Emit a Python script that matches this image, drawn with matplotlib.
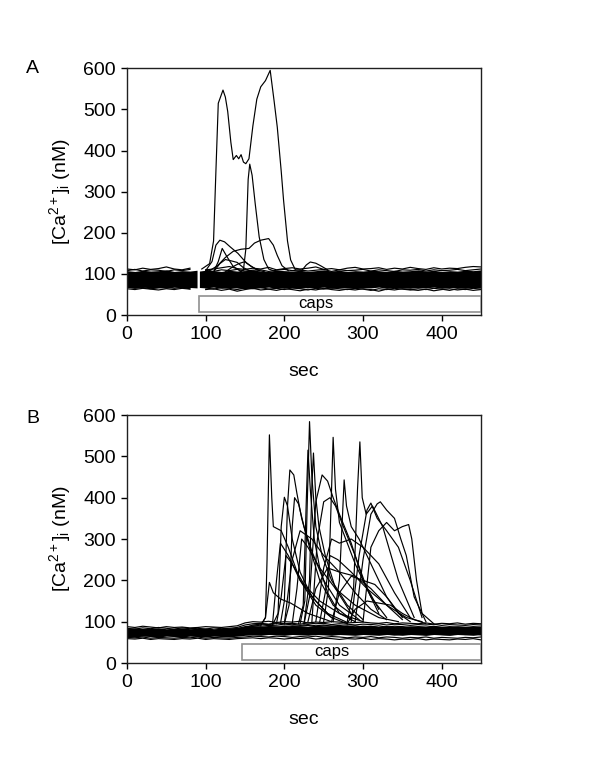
import numpy as np
import matplotlib
matplotlib.use("Agg")
import matplotlib.pyplot as plt
from matplotlib.patches import Rectangle

plt.rcParams['font.family'] = ['Liberation Sans', 'DejaVu Sans']
plt.rcParams['mathtext.fontset'] = 'custom'
plt.rcParams['mathtext.rm'] = 'Liberation Sans'
plt.rcParams['mathtext.it'] = 'Liberation Sans'

nan = np.nan

# ---------------- panel A data ----------------
# dense baseline band (envelope), with the recording gap at ~90 s
band_a_left_t = [0, 10, 20, 30, 40, 50, 60, 70, 80, 89]
band_a_left_lo = [67, 66, 68, 66, 67, 65, 68, 66, 67, 66]
band_a_left_hi = [108, 106, 109, 107, 108, 110, 106, 108, 107, 109]
band_a_right_t = [92, 100, 110, 120, 130, 140, 150, 160, 170, 180, 190, 200, 210,
                  220, 230, 240, 250, 260, 270, 280, 290, 300, 310, 320, 330, 340,
                  350, 360, 370, 380, 390, 400, 410, 420, 430, 440, 450]
band_a_right_lo = [67, 66, 68, 65, 67, 66, 64, 67, 66, 68, 65, 67, 66, 65, 67, 66,
                   68, 65, 67, 66, 65, 67, 66, 68, 65, 67, 66, 65, 67, 66, 68, 65,
                   67, 66, 65, 67, 66]
band_a_right_hi = [107, 109, 108, 106, 109, 107, 108, 110, 107, 106, 109, 108, 107,
                   109, 106, 108, 110, 107, 109, 106, 108, 107, 109, 108, 106, 109,
                   107, 108, 110, 107, 109, 106, 108, 107, 109, 108, 110]

# individual baseline traces at the band edges (10 s grid, gap at 90 s)
t_edge = list(range(0, 451, 10))
edge_a = [
    [112, 110, 114, 111, 113, 117, 112, 110, 114, nan, 110, 112, 115, 118, 113, 111,
     114, 112, 116, 110, 113, 115, 112, 114, 117, 111, 113, 110, 114, 116, 112, 113,
     115, 111, 114, 112, 116, 113, 111, 115, 112, 114, 113, 116, 118, 117],
    [108, 111, 107, 110, 109, 106, 110, 108, 111, nan, 109, 106, 110, 108, 111, 107,
     109, 110, 106, 109, 111, 108, 110, 107, 109, 111, 106, 110, 108, 109, 111, 107,
     110, 108, 106, 110, 109, 111, 107, 110, 108, 109, 111, 108, 110, 112],
    [64, 62, 65, 63, 61, 64, 62, 65, 63, nan, 62, 64, 60, 63, 58, 62, 65, 61, 63, 60,
     64, 62, 59, 63, 61, 65, 62, 60, 63, 61, 64, 62, 58, 63, 61, 64, 62, 60, 63, 59,
     62, 64, 61, 63, 60, 62],
    [68, 65, 67, 64, 66, 68, 65, 67, 64, nan, 66, 63, 67, 65, 62, 66, 64, 67, 63, 65,
     62, 66, 64, 61, 65, 63, 66, 64, 62, 65, 63, 60, 64, 62, 65, 63, 61, 64, 62, 65,
     63, 60, 64, 62, 65, 63],
]

# responding cells in panel A (time s, [Ca2+] nM)
resp_a_t = [
    [95, 105, 110, 113, 116, 122, 125, 128, 132, 135, 139, 142, 145, 148, 151, 155,
     160, 165, 170, 176, 182, 187, 191, 196, 199, 204, 208, 214, 225],
    [140, 148, 151, 154, 156, 159, 163, 168, 174, 180, 190],
    [100, 108, 113, 118, 124, 131, 141, 152, 165, 175],
    [105, 115, 125, 135, 145, 155, 162, 170, 180, 186, 191, 197, 205],
    [110, 116, 121, 127, 135, 145],
    [110, 118, 125, 132, 140, 148, 158],
    [125, 135, 142, 150, 158, 168],
    [222, 228, 233, 240, 246, 255],
]
resp_a_v = [
    [112, 125, 180, 350, 515, 547, 530, 495, 420, 378, 388, 380, 390, 372, 368, 380,
     460, 525, 555, 570, 595, 520, 457, 350, 279, 180, 134, 110, 108],
    [100, 110, 160, 330, 367, 340, 270, 190, 135, 112, 105],
    [108, 130, 170, 182, 178, 166, 150, 126, 110, 105],
    [108, 120, 140, 155, 160, 162, 175, 182, 186, 170, 145, 120, 108],
    [105, 130, 162, 142, 118, 106],
    [105, 125, 135, 132, 128, 115, 106],
    [105, 118, 125, 130, 118, 108],
    [108, 122, 129, 126, 120, 110],
]

# ---------------- panel B data ----------------
t_base_b = list(range(0, 451, 10))
band_b_lo = [64, 63, 65, 64, 63, 65, 64, 63, 65, 64, 63, 65, 64, 63, 65, 67, 68, 67,
             69, 68, 67, 69, 68, 67, 69, 68, 67, 69, 68, 67, 69, 68, 67, 69, 68, 67,
             69, 68, 67, 69, 68, 67, 69, 68, 67, 69]
band_b_hi = [84, 85, 83, 84, 85, 83, 84, 85, 83, 84, 85, 83, 84, 85, 86, 89, 90, 89,
             91, 90, 89, 91, 90, 89, 91, 90, 89, 91, 90, 89, 90, 89, 88, 90, 89, 88,
             90, 89, 88, 90, 89, 88, 90, 89, 88, 89]
base_b = [
    [88, 86, 89, 87, 85, 88, 86, 87, 85, 86, 88, 87, 86, 88, 90, 97, 100, 99, 101, 98,
     100, 99, 101, 97, 99, 98, 100, 99, 97, 98, 99, 97, 96, 98, 95, 97, 96, 95, 97, 94,
     96, 95, 97, 94, 96, 95],
    [80, 78, 81, 79, 80, 78, 79, 81, 78, 80, 79, 78, 80, 81, 83, 88, 90, 89, 91, 90,
     88, 90, 89, 91, 88, 90, 89, 88, 90, 87, 89, 88, 90, 87, 89, 88, 86, 88, 87, 89,
     86, 88, 87, 86, 88, 87],
    [75, 76, 74, 77, 75, 74, 76, 75, 77, 74, 76, 75, 74, 76, 78, 82, 84, 83, 85, 84,
     86, 83, 85, 84, 82, 84, 83, 85, 82, 84, 83, 81, 83, 82, 80, 82, 81, 83, 80, 82,
     81, 80, 82, 81, 83, 80],
    [72, 70, 73, 71, 72, 70, 71, 73, 70, 72, 71, 70, 72, 71, 73, 76, 78, 77, 79, 78,
     76, 78, 77, 79, 76, 78, 77, 76, 78, 75, 77, 76, 78, 75, 77, 76, 74, 76, 75, 77,
     74, 76, 75, 74, 76, 75],
    [68, 67, 69, 66, 68, 67, 66, 68, 67, 69, 66, 68, 67, 66, 68, 70, 72, 71, 70, 72,
     71, 73, 70, 72, 71, 70, 72, 69, 71, 70, 72, 69, 71, 70, 68, 70, 69, 71, 68, 70,
     69, 68, 70, 69, 71, 68],
    [62, 61, 63, 60, 62, 61, 60, 62, 61, 63, 60, 62, 61, 60, 62, 63, 65, 64, 63, 65,
     64, 62, 64, 63, 65, 62, 64, 63, 61, 63, 62, 64, 61, 63, 62, 60, 62, 61, 63, 60,
     62, 61, 60, 62, 61, 63],
    [59, 58, 60, 57, 59, 58, 57, 59, 58, 60, 57, 59, 58, 57, 59, 60, 61, 59, 61, 60,
     58, 60, 59, 61, 58, 60, 59, 57, 59, 58, 60, 57, 59, 58, 56, 58, 57, 59, 56, 58,
     57, 56, 58, 57, 59, 56],
    [78, 80, 77, 79, 81, 78, 80, 77, 79, 78, 80, 79, 77, 79, 80, 85, 92, 94, 93, 95,
     92, 94, 91, 93, 90, 92, 89, 91, 88, 90, 87, 89, 86, 88, 85, 87, 84, 86, 85, 87,
     84, 86, 85, 84, 86, 85],
    [84, 82, 85, 83, 86, 84, 82, 85, 83, 84, 82, 85, 83, 84, 86, 92, 95, 96, 94, 97,
     95, 96, 94, 97, 95, 96, 93, 95, 94, 92, 94, 93, 95, 92, 94, 93, 91, 93, 92, 94,
     91, 93, 92, 91, 93, 92],
]

resp_b_t = [
    [150, 170, 176, 178, 181, 184, 186, 196, 205, 220, 240, 260, 280],
    [170, 176, 181, 186, 195, 208, 230, 260],
    [185, 192, 196, 200, 204, 210, 220, 235, 255, 280],
    [195, 200, 204, 207, 212, 216, 222, 232, 245, 262, 285],
    [200, 206, 210, 213, 218, 225, 235, 250, 270, 295],
    [220, 226, 229, 232, 235, 240, 248, 260, 280, 300],
    [218, 224, 228, 230, 233, 238, 245, 255, 270, 290],
    [225, 232, 235, 237, 240, 244, 252, 265, 285],
    [225, 232, 240, 248, 255, 262, 270, 285, 300, 320],
    [250, 256, 260, 262, 265, 270, 278, 290, 310, 330],
    [262, 270, 274, 276, 279, 285, 295, 310, 330, 350],
    [280, 288, 293, 296, 299, 304, 312, 325, 345, 365],
    [290, 300, 310, 318, 322, 330, 340, 348, 355, 365, 380],
    [300, 310, 320, 330, 340, 350, 358, 362, 368, 375, 390],
    [285, 295, 305, 310, 318, 330, 345, 360, 375],
    [240, 250, 260, 270, 285, 300, 320, 340, 360],
    [200, 210, 220, 235, 250, 270, 290, 310, 330],
    [230, 240, 255, 270, 290, 310, 330, 350],
    [260, 270, 285, 300, 315, 330, 345, 360],
    [280, 290, 305, 320, 335, 350, 365, 380],
    [185, 190, 195, 205, 220, 240, 260],
    [235, 242, 250, 258, 265, 275, 290, 305, 320],
    [190, 196, 202, 210, 225, 245, 270, 300],
    [210, 216, 222, 230, 245, 265, 290, 320, 345],
    [245, 252, 258, 268, 285, 305, 330, 355, 375],
]
resp_b_v = [
    [85, 92, 110, 250, 552, 400, 330, 320, 280, 200, 140, 110, 95],
    [90, 110, 195, 170, 155, 145, 120, 100],
    [92, 120, 330, 401, 380, 300, 220, 160, 120, 98],
    [95, 150, 380, 467, 455, 410, 350, 280, 200, 140, 105],
    [95, 140, 330, 400, 385, 330, 270, 200, 140, 105],
    [95, 150, 380, 584, 450, 330, 260, 200, 140, 105],
    [95, 140, 400, 515, 420, 300, 230, 170, 120, 100],
    [95, 200, 430, 508, 400, 330, 260, 180, 120],
    [95, 160, 390, 455, 440, 400, 360, 290, 200, 130],
    [100, 180, 420, 546, 420, 340, 300, 240, 160, 110],
    [100, 200, 360, 443, 380, 330, 300, 240, 160, 110],
    [100, 180, 420, 535, 400, 360, 380, 330, 200, 110],
    [100, 250, 360, 385, 390, 370, 350, 300, 260, 160, 100],
    [100, 280, 320, 340, 320, 330, 335, 300, 200, 120, 95],
    [100, 260, 370, 387, 350, 320, 280, 200, 110],
    [100, 230, 300, 290, 300, 280, 240, 170, 110],
    [95, 250, 320, 300, 260, 220, 170, 130, 105],
    [100, 180, 230, 220, 210, 180, 140, 105],
    [100, 170, 210, 200, 190, 160, 120, 100],
    [95, 130, 150, 145, 140, 120, 105, 95],
    [95, 200, 290, 260, 200, 150, 110],
    [100, 300, 390, 400, 380, 330, 260, 180, 120],
    [95, 160, 260, 240, 190, 150, 120, 100],
    [95, 180, 300, 280, 230, 180, 140, 110, 100],
    [100, 170, 260, 250, 220, 180, 140, 110, 100],
]

# caps application bar: start, end, label x
caps_a = (92, 450, 240)
caps_b = (146, 450, 261)

fig = plt.figure(figsize=(6, 7.76), dpi=100)
ax_a = fig.add_axes([0.2117, 0.594, 0.59, 0.318])
ax_b = fig.add_axes([0.2117, 0.1456, 0.59, 0.3196])

lw = 0.85

# panel A
ax_a.fill_between(band_a_left_t, band_a_left_lo, band_a_left_hi, color='black', lw=0)
ax_a.fill_between(band_a_right_t, band_a_right_lo, band_a_right_hi, color='black', lw=0)
for v in edge_a:
    ax_a.plot(t_edge, v, color='black', lw=lw)
for t, v in zip(resp_a_t, resp_a_v):
    ax_a.plot(t, v, color='black', lw=lw)

# panel B
ax_b.fill_between(t_base_b, band_b_lo, band_b_hi, color='black', lw=0)
for v in base_b:
    ax_b.plot(t_base_b, v, color='black', lw=lw)
for t, v in zip(resp_b_t, resp_b_v):
    ax_b.plot(t, v, color='black', lw=lw)

for ax, caps, lab, laby in [(ax_a, caps_a, 'A', 1.0), (ax_b, caps_b, 'B', 0.985)]:
    ax.add_patch(Rectangle((caps[0], 8), caps[1] - caps[0], 38, facecolor='white',
                           edgecolor='#909090', lw=1.2, zorder=3))
    ax.text(caps[2], 27, 'caps', ha='center', va='center', fontsize=12, zorder=4)
    ax.set_xlim(0, 450)
    ax.set_ylim(0, 600)
    ax.set_xticks([0, 100, 200, 300, 400])
    ax.set_yticks([0, 100, 200, 300, 400, 500, 600])
    ax.tick_params(labelsize=14, direction='out', length=4, width=1, pad=4)
    for s in ax.spines.values():
        s.set_linewidth(1)
        s.set_color('#202020')
    ax.set_xlabel('sec', fontsize=14, labelpad=14)
    ax.set_ylabel('[Ca$^{2+}$]$_{\\mathrm{i}}$ (nM)', fontsize=14, labelpad=7)
    ax.text(-0.266, laby, lab, transform=ax.transAxes, fontsize=14, ha='center', va='center')

fig.savefig('out.png', dpi=100)
